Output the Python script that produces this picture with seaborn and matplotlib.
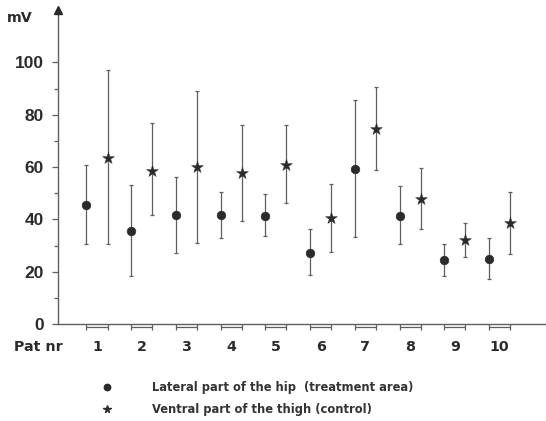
import numpy as np
import pandas as pd
import matplotlib
matplotlib.use("Agg")
import matplotlib.pyplot as plt
import seaborn as sns
from matplotlib import transforms
from matplotlib.lines import Line2D

# ---- data ----
patients = ["1", "2", "3", "4", "5", "6", "7", "8", "9", "10"]
hip_mean = [45.4, 35.7, 41.8, 41.8, 41.4, 27.0, 59.2, 41.4, 24.3, 24.8]
hip_low = [30.6, 18.3, 27.2, 32.9, 33.6, 18.6, 33.4, 30.6, 18.5, 17.1]
hip_high = [60.8, 53.1, 56.3, 50.3, 49.7, 36.3, 85.6, 52.7, 30.5, 32.7]
thigh_mean = [63.5, 58.6, 60.1, 57.8, 60.9, 40.4, 74.4, 47.7, 32.2, 38.5]
thigh_low = [30.6, 41.8, 30.8, 39.4, 46.4, 27.4, 58.8, 36.2, 25.7, 26.7]
thigh_high = [96.9, 76.9, 89.0, 76.0, 76.0, 53.5, 90.7, 59.7, 38.7, 50.4]
series_labels = ["Lateral part of the hip  (treatment area)",
                 "Ventral part of the thigh (control)"]
y_ticks = [0, 20, 40, 60, 80, 100]
y_minor = [10, 30, 50, 70, 90]

sns.set_theme(style="ticks")
plt.rcParams["font.family"] = ["Liberation Sans", "DejaVu Sans"]
DJ = ["DejaVu Sans"]

OFF = 0.235
idx = np.arange(len(patients))
rows = []
for i in idx:
    rows.append(dict(x=i - OFF, value=hip_mean[i], lo=hip_low[i], hi=hip_high[i], series="hip"))
    rows.append(dict(x=i + OFF, value=thigh_mean[i], lo=thigh_low[i], hi=thigh_high[i], series="thigh"))
df = pd.DataFrame(rows)

W, H = 546, 421
fig = plt.figure(figsize=(W / 100, H / 100), dpi=100)
ax = fig.add_axes([58 / W, 1 - 324 / H, (546 - 58) / W, (324 - 10) / H])

ink = "#2b2b2b"
line_c = "#5f5f5f"

ax.errorbar(df["x"], df["value"],
            yerr=[df["value"] - df["lo"], df["hi"] - df["value"]],
            fmt="none", ecolor=line_c, elinewidth=0.9, capsize=1.6, capthick=0.9, zorder=2)

sub_h = df[df.series == "hip"]
sub_t = df[df.series == "thigh"]
sns.scatterplot(data=sub_h, x="x", y="value", marker="o", color=ink, s=38,
                edgecolor=ink, linewidth=0.5, legend=False, ax=ax, zorder=3)
sns.scatterplot(data=sub_t, x="x", y="value", marker="*", color=ink, s=80,
                edgecolor=ink, linewidth=0.3, legend=False, ax=ax, zorder=3)

ax.set_xlim(-0.872, 10.04)
ax.set_ylim(0, 120)
ax.set_xlabel("")
ax.set_ylabel("")

for s in ["top", "right"]:
    ax.spines[s].set_visible(False)
for s in ["left", "bottom"]:
    ax.spines[s].set_color(line_c)
    ax.spines[s].set_linewidth(1.0)

ax.set_yticks(y_ticks)
ax.set_yticks(y_minor, minor=True)
ax.set_yticklabels([str(v) for v in y_ticks], fontsize=12.5, fontweight="bold", color=ink)
ax.tick_params(axis="y", which="major", length=4, width=0.9, color=line_c, pad=6)
ax.tick_params(axis="y", which="minor", length=3, width=0.9, color=line_c)

ax.set_xticks(list(df["x"]))
ax.set_xticklabels([])
ax.tick_params(axis="x", which="major", length=4, width=0.9, color=line_c)

# brackets under the axis
trans_b = transforms.blended_transform_factory(ax.transData, ax.transAxes)
off_tr = trans_b + transforms.ScaledTranslation(0, -3 / 100, fig.dpi_scale_trans)
for i in idx:
    ax.plot([i - OFF, i + OFF], [0, 0], color=line_c, lw=0.9, transform=off_tr, clip_on=False)
    ax.text(i, -0.072, patients[i], transform=trans_b, ha="center", va="center",
            fontsize=10.3, fontweight="bold", family=DJ, color=ink)

fig.text(38 / W, 1 - 347 / H, "Pat nr", ha="center", va="center", fontsize=10.3,
         fontweight="bold", family=DJ, color=ink)
fig.text(20 / W, 1 - 18 / H, "mV", ha="center", va="center", fontsize=10.3,
         fontweight="bold", family=DJ, color=ink)

# arrow on y axis
ax.plot([0], [1], marker="^", markersize=6, color=ink, transform=ax.transAxes,
        clip_on=False, zorder=5)

# legend
fig.add_artist(Line2D([107 / W], [1 - 387 / H], marker="o", color=ink, markersize=4.6,
                      linestyle="none", transform=fig.transFigure))
fig.add_artist(Line2D([107 / W], [1 - 409 / H], marker="*", color=ink, markersize=5.5,
                      linestyle="none", transform=fig.transFigure))
fig.text(152 / W, 1 - 387 / H, series_labels[0], ha="left", va="center",
         fontsize=8.3, fontweight="bold", family=DJ, color="#333")
fig.text(152 / W, 1 - 409 / H, series_labels[1], ha="left", va="center",
         fontsize=8.3, fontweight="bold", family=DJ, color="#333")

fig.savefig("out.png", dpi=100)
